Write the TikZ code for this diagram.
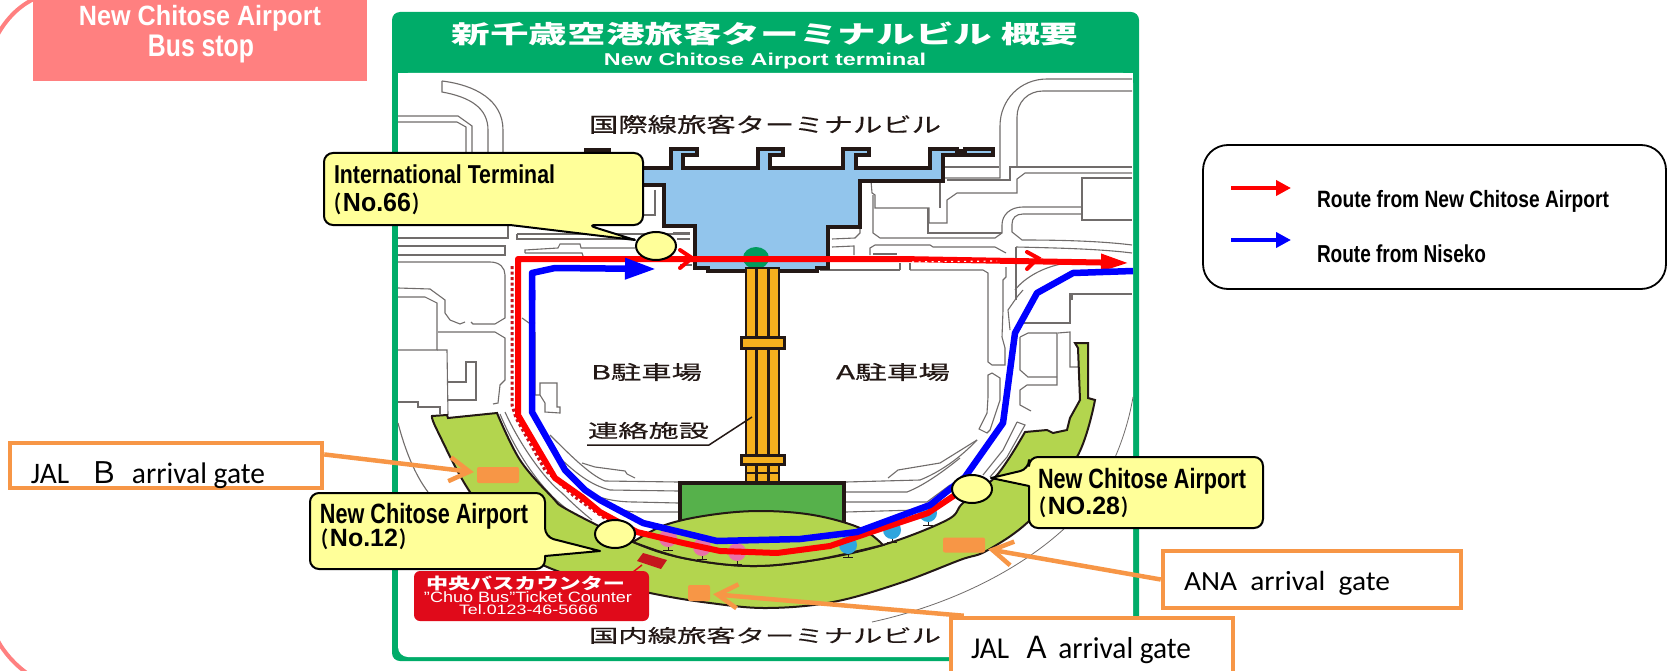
\documentclass[tikz,border=0pt]{standalone}
\usepackage{graphicx}
\usepackage{fontspec}
\usetikzlibrary{arrows.meta,shapes.geometric}
\setmainfont{Liberation Sans}
\newfontfamily\boxfont{Carlito}
\newfontfamily\cjk{Noto Sans CJK JP}
\newfontfamily\cjkm[FakeBold=0.4]{Noto Sans CJK JP}
\newfontfamily\cjkp[RawFeature=+palt]{Noto Sans CJK JP}
\newcommand\FT[3]{\resizebox*{#1pt}{#2pt}{#3}}
\newcommand\LPn{\raisebox{-.05em}{\resizebox*{.32em}{.84em}{\cjkp\bfseries （}}\hspace{.08em}}
\newcommand\RPn{\hspace{.08em}\raisebox{-.05em}{\resizebox*{.32em}{.84em}{\cjkp\bfseries ）}}}
\definecolor{pinkbox}{HTML}{FF8080}
\definecolor{framegreen}{HTML}{00AC69}
\definecolor{orangeline}{HTML}{F79646}
\definecolor{calloutfill}{HTML}{FFFF99}
\definecolor{roadgray}{HTML}{706C6B}
\definecolor{mapblack}{HTML}{231815}
\definecolor{termblue}{HTML}{92C5EC}
\definecolor{concgreen}{HTML}{B3D54E}
\definecolor{conngreen}{HTML}{56B14B}
\definecolor{bridgeorange}{HTML}{F6B01E}
\definecolor{counterred}{HTML}{E00A1A}
\definecolor{darkred}{HTML}{C5161D}
\definecolor{standpink}{HTML}{E872A8}
\definecolor{standblue}{HTML}{2FA5DE}
\tikzset{
  txt/.style={inner sep=0pt,outer sep=0pt},
  road/.style={draw=roadgray,line width=1.1pt},
  callout/.style={draw=black,fill=calloutfill,line width=2pt,line join=round},
  stopmark/.style={ellipse,draw=black,fill=calloutfill,line width=2pt,minimum width=40pt,minimum height=28pt,inner sep=0pt},
  gatebox/.style={draw=orangeline,line width=4.5pt,fill=white,inner sep=0pt},
  gatemark/.style={fill=orangeline,rounded corners=2pt,inner sep=0pt},
  gatearrow/.style={draw=orangeline,line width=4.5pt,-{Straight Barb[length=20pt,width=24pt,line width=4.5pt]}},
  redroute/.style={draw=red,line width=6pt,line join=round},
  blueroute/.style={draw=blue,line width=6.5pt,line join=round},
  mapoutline/.style={draw=mapblack,line width=2pt,line join=miter},
}
\begin{document}
\begin{tikzpicture}[x=1pt,y=-1pt]
\useasboundingbox (0,0) rectangle (1669,671);
\clip (0,0) rectangle (1669,671);
% pink outer outline
\draw[pinkbox,line width=4pt] (-2,34) .. controls (6,20) and (18,6) .. (36,-2);
\draw[pinkbox,line width=4pt] (-2,641) .. controls (4,652) and (14,664) .. (28,674);
\fill[pinkbox] (33,-2) rectangle (367,81);
\node[txt,text=white] (pa) at (200,18) {\FT{242}{26}{\bfseries New Chitose Airport}};
\node[txt,text=white] (pb) at (201,49) {\FT{106}{28}{\bfseries Bus stop}};
% frame
\fill[framegreen,rounded corners=8pt] (392,12) rectangle (1139,661);
\fill[white,rounded corners=10pt] (398,73) -- (1133,73) -- (1133,657) -- (398,657) -- cycle;
\fill[white] (398,73) rectangle (1133,100);
\fill[white] (1100,73) rectangle (1133,657);
\node[txt,text=white] (title) at (765,34) {\FT{627}{24}{\cjk\bfseries 新千歳空港旅客ターミナルビル 概要}};
\node[txt,text=white] (subtitle) at (765,61) {\FT{322}{16}{\bfseries New Chitose Airport terminal}};
% roads top left
\path[road] (442,81) .. controls (475,85) and (503,100) .. (503,130) -- (503,152);
\path[road] (442,81) -- (442,92) .. controls (470,97) and (488,108) .. (488,130) -- (488,152);
\path[road] (398,116) -- (458,116) -- (472,126) -- (472,152);
\path[road] (398,122) -- (457,122) -- (466,127) -- (466,152);
\path[road] (508,225) -- (508,238) -- (398,238);
\path[road] (398,246) -- (505,246) -- (505,255) -- (398,255);
\path[road] (398,262) -- (490,262) .. controls (500,262) and (505,268) .. (505,275) -- (505,318) -- (495,324) -- (473,324) -- (471,322);
\path[road] (465,322) -- (460,324) -- (450,320) -- (445,313) -- (445,300) -- (430,289) -- (398,288);
\path[road] (398,297) -- (425,297) -- (437,303) -- (437,350) -- (398,350);
\path[road] (438,332) -- (495,332) -- (505,338) -- (505,380) -- (500,385) -- (498,403) -- (493,404);
\path[road] (437,350) -- (447,350) -- (448,415);
\path[road] (448,382) -- (466,382) -- (466,362) -- (476,362) -- (476,400) -- (448,400);
\path[road] (398,402) -- (418,402) -- (418,407) -- (440,407) -- (440,414);
\path[road] (398,423) .. controls (405,450) and (415,475) .. (428,492);
\path[road] (517,234) -- (690,234);
\path[road] (517,234) -- (517,239) -- (635,239);
\path[road] (525,253) -- (525,250) -- (558,248) -- (560,244) -- (580,244) -- (581,248) -- (635,248);
\path[road] (525,253) -- (582,253) -- (583,256);
\path[road] (655,190) -- (655,215) -- (643,215);
\path[road] (673,233) -- (690,233);
\path[road] (677,239) -- (690,239);
\path[road] (680,265) -- (692,265);
% roads top right
\path[road] (1132,79) -- (1047,79) .. controls (1020,79) and (1000,100) .. (1000,126) -- (1000,178) -- (945,178);
\path[road] (1132,91) -- (1043,91) .. controls (1028,91) and (1017,102) .. (1017,117) -- (1017,167);
\path[road] (1132,167) -- (1010,167) -- (1010,180) -- (947,180);
\path[road] (945,167) -- (999,167);
\path[road] (1132,173) -- (1025,173) -- (1017,179) -- (1017,193) -- (957,193) -- (947,200) -- (947,223) -- (929,223) -- (929,208) -- (875,208) -- (875,195) -- (872,193) -- (871,181);
\path[road] (940,182) -- (940,208);
\path[road] (928,208) -- (928,233);
\path[road] (1132,178) -- (1082,178) -- (1082,220) -- (1132,220);
\path[road] (1082,207) -- (1023,207) .. controls (1010,207) and (1002,215) .. (1002,225) -- (1002,233) -- (995,238) -- (880,238) -- (873,233) -- (873,195);
\path[road] (1082,214) -- (1023,214) .. controls (1016,214) and (1012,218) .. (1012,224) -- (1012,232) -- (1022,240) .. controls (1060,240) and (1100,241) .. (1132,245);
\path[road] (1002,233) -- (927,233);
\path[road] (860,227) -- (860,233) -- (855,238) -- (832,239);
\path[road] (832,247) -- (854,246) -- (854,255);
\path[road] (870,255) -- (870,248) -- (875,245) -- (930,245) -- (933,247) -- (995,247) -- (1006,253);
\path[road] (873,254) -- (897,254);
\path[road] (1016,247) .. controls (1060,248) and (1100,249) .. (1132,253);
\path[road] (1016,247) -- (1016,300);
\path[road] (1006,267) -- (1006,277) -- (1003,280) -- (1003,310) -- (1002,337) -- (1005,348) -- (1005,365) -- (992,365) -- (988,362) -- (988,273) -- (983,270) -- (910,270);
\path[road] (900,270) -- (820,270);
\path[road] (900,263) -- (900,270);
\path[road] (910,263) -- (910,270);
\path[road] (1015,290) .. controls (1025,277) and (1045,266) .. (1067,263);
\path[road] (1072,300) -- (1072,294) -- (1132,294);
\path[road] (988,375) -- (992,373) -- (1000,378) -- (1000,400) -- (990,430) -- (987,433) -- (979,429) -- (987,413) -- (988,397) -- cycle;
\path[road] (1010,330) -- (1008,310) -- (1017,297) -- (1023,290);
\path[road] (1020,323) -- (1070,323) -- (1070,293);
\path[road] (1020,337) -- (1028,333) -- (1057,333) -- (1057,385) -- (1027,385) -- (1020,390) -- (1020,405) -- (1031,411);
\path[road] (1020,337) -- (1020,370) -- (1028,377) -- (1057,377);
\path[road] (1058,333) -- (1070,332) -- (1070,367) -- (1078,367);
% outer thin arc
\path[road,line width=.8pt] (1133,397) .. controls (1125,445) and (1100,500) .. (1066,527) .. controls (1020,570) and (950,605) .. (872,622);
% roads around parking areas
\path[road] (535,332) -- (535,395) -- (540,395) -- (540,383) -- (557,383) -- (557,407) -- (560,407) -- (560,413) -- (545,412) -- (545,403) -- (540,395);
\path[road] (522,318) -- (529,323) -- (535,323);
\path[road] (550,435) .. controls (570,455) and (590,475) .. (605,481) -- (678,482);
\path[road] (562,460) .. controls (575,472) and (590,485) .. (610,490) -- (678,491);
\path[road] (585,490) .. controls (600,500) and (620,502) .. (635,502) -- (678,503);
\path[road] (608,503) .. controls (615,508) and (625,512) .. (638,512) -- (678,512);
\path[road] (582,463) -- (595,467) -- (625,471) -- (627,474) -- (635,478);
\path[road] (846,482) -- (920,480) .. controls (940,472) and (960,458) .. (977,440);
\path[road] (888,478) -- (898,470) -- (940,463) -- (977,440);
\path[road] (846,492) -- (907,492) .. controls (925,485) and (945,470) .. (960,458);
\path[road] (846,502) -- (927,502) -- (950,485);
\path[road] (846,512) -- (917,510);
\path[road] (1017,422) -- (1003,450) -- (983,475);
\path[road] (1017,422) -- (1025,425) -- (1007,457) -- (990,477);
\path[road] (505,412) .. controls (520,445) and (545,480) .. (562,493) .. controls (572,503) and (582,512) .. (592,520);
\path[road] (500,414) .. controls (515,450) and (535,480) .. (556,500) -- (582,522);
% terminal
\filldraw[fill=termblue,draw=mapblack,line width=4pt,line join=miter]
  (640,168) -- (671,168) -- (671,149) -- (697,149) -- (697,155) -- (683,155) -- (683,168)
  -- (758,168) -- (758,149) -- (783,149) -- (783,155) -- (770,155) -- (770,168)
  -- (843,168) -- (843,149) -- (869,149) -- (869,155) -- (856,155) -- (856,168)
  -- (930,168) -- (930,149) -- (957,149) -- (957,155) -- (943,155) -- (943,181)
  -- (860,181) -- (860,227) -- (828,227) -- (828,268) -- (817,268) -- (817,271)
  -- (708,271) -- (708,268) -- (695,268) -- (695,226) -- (664,226) -- (664,185) -- (640,185) -- cycle;
\filldraw[fill=termblue,draw=mapblack,line width=4pt] (957,151) -- (965,151) -- (965,149) -- (993,149) -- (993,155) -- (965,155) -- (957,155);
\fill[mapblack] (584,148) rectangle (611,156);
% small green circle
\filldraw[fill=framegreen!90!black,draw=none] (756,258) ellipse (13pt and 11pt);
% bridge
\filldraw[fill=bridgeorange,draw=mapblack,line width=2.5pt] (746,268) rectangle (779,483);
\draw[mapblack,line width=3pt] (756,268) -- (756,483);
\draw[mapblack,line width=3pt] (768,268) -- (768,483);
\filldraw[fill=bridgeorange,draw=mapblack,line width=3pt] (741,337) rectangle (784,348);
\filldraw[fill=bridgeorange,draw=mapblack,line width=3pt] (741,455) rectangle (784,464);
\draw[mapblack,line width=2.5pt] (746,473) -- (779,473);
% connector building
\filldraw[fill=conngreen,draw=mapblack,line width=3.5pt] (680,483) rectangle (844,540);
% concourse
\filldraw[fill=concgreen,mapoutline] plot[smooth,tension=.6] coordinates {(432,416)(437,430)(470,492)(515,545)(560,572)(650,593)(710,603)(767,608)(833,602)(900,583)(960,560)(988,550)(1033,517)(1078,455)(1095,400)}
  -- (1088,398) -- (1088,343) -- (1075,343) -- (1078,348) -- (1080,400) -- (1070,418) -- (1067,430) -- (1053,433) -- (1047,430) -- (1025,432)
  -- plot[smooth,tension=.6] coordinates {(1025,432)(997,475)(963,503)(947,520)(883,545)(815,560)(750,566)(683,558)(633,542)(568,510)(552,497)(520,460)(497,413)}
  -- (448,418) -- (447,415) -- cycle;
\filldraw[fill=concgreen,mapoutline] plot[smooth,tension=.6] coordinates {(633,542)(665,525)(710,515)(760,511)(813,515)(860,528)(883,545)}
  -- plot[smooth,tension=.6] coordinates {(883,545)(815,560)(750,566)(683,558)(633,542)} -- cycle;
% stands
\foreach \sx/\sy/\sc in {668/538/standpink,702/547/standpink,737/552/standpink,848/545/standblue,892/530/standblue,928/513/standblue}{
  \fill[\sc] (\sx,\sy) circle (9pt);
  \draw[mapblack,line width=.9pt] (\sx,\sy+9) -- (\sx,\sy+12) (\sx-5,\sy+12) -- (\sx+5,\sy+12);
}
% routes
\draw[darkred,line width=3pt,dash pattern=on 3pt off 2.5pt] (512,266) -- (512,405) -- (516,418) -- (545,470) -- (575,497) -- (610,522) -- (645,535);
\path[redroute] (692,259) -- (518,259) -- (518,415) -- (555,478) -- (582,497) -- (600,512) -- (637,532) -- (683,543) -- (720,551) -- (777,553) -- (830,546) -- (877,530) -- (928,513) -- (955,495);
\path[draw=red,line width=6pt,-{Triangle[length=28pt,width=16pt]}] (692,259) -- (900,259) -- (1129,263);
\draw[red,line width=4pt,line cap=round,line join=miter] (680,250) -- (692,258) -- (680,268);
\draw[red,line width=4pt,line cap=round,line join=miter] (1027,252) -- (1038,258) -- (1027,269);
\draw[white,line width=1.2pt,dash pattern=on 2pt off 4.5pt] (912,262) -- (997,261);
\path[blueroute,-{Triangle[length=31pt,width=20pt]}] (532,300) -- (532,273) -- (555,268) -- (656,269);
\path[blueroute] (532,290) -- (532,412) -- (565,470) -- (585,490) -- (600,500) -- (643,523) -- (717,541) -- (800,539) -- (857,532) -- (930,505) -- (965,477) -- (1003,423) -- (1015,333) -- (1037,293) -- (1073,273) -- (1133,271);
% map labels
\node[txt,text=mapblack] (intl) at (765,124.5) {\FT{352}{19}{\cjkm 国際線旅客ターミナルビル}};
\node[txt,text=mapblack] (dom) at (765,635.5) {\FT{352}{17}{\cjkm 国内線旅客ターミナルビル}};
\node[txt,text=mapblack] (bpark) at (646.5,372) {\FT{111}{18}{\cjkm B駐車場}};
\node[txt,text=mapblack] (apark) at (893,372) {\FT{114}{18}{\cjkm A駐車場}};
\node[txt,text=mapblack] (link) at (648.5,430.5) {\FT{121}{17}{\cjkm 連絡施設}};
\coordinate (linkbar) at (587,445);
\coordinate (linkknee) at (709,445);
\coordinate (linktip) at (752,417);
\draw[mapblack,line width=1.5pt] (linkbar) -- (linkknee) -- (linktip);
% counter
\fill[darkred] (643,553) -- (667,560) -- (661,569) -- (637,561) -- cycle;
\draw[counterred,line width=1.5pt] (642,565) -- (633,572);
\fill[counterred,rounded corners=6pt] (414,571) rectangle (649,621);
\node[txt,text=white] (ca) at (525.5,583.5) {\FT{199}{15}{\cjk\bfseries 中央バスカウンター}};
\node[txt,text=white] (cb) at (528,597) {\FT{208}{11}{"Chuo Bus"Ticket Counter}};
\node[txt,text=white] (cc) at (528.5,610) {\FT{139}{10}{Tel.0123-46-5666}};
% callouts
\draw[callout,rounded corners=9pt] (324,153) -- (643,153) -- (643,225) -- (587,225) [sharp corners] -- (635,240) -- (510,225) [rounded corners=9pt] -- (324,225) -- cycle;
\node[stopmark] (stopintl) at (656,246) {};
\node[txt] (ia) at (444.5,174.5) {\FT{221}{19}{\bfseries International Terminal}};
\node[txt] (ib) at (377,204) {\FT{88}{22}{\bfseries \LPn No.66\RPn}};
\draw[callout,rounded corners=9pt] (310,493) -- (545,493) -- (545,537) [sharp corners] -- (600,551) -- (545,556) [rounded corners=9pt] -- (545,569) -- (310,569) -- cycle;
\node[stopmark] (stoptw) at (615,534) {};
\node[txt] (ta) at (424,516) {\FT{208}{26}{\bfseries New Chitose Airport}};
\node[txt] (tb) at (364,539.5) {\FT{88}{21}{\bfseries \LPn No.12\RPn}};
\draw[callout,rounded corners=9pt] (1029,469) [sharp corners] -- (991,478) -- (1029,486) [rounded corners=9pt] -- (1029,528) -- (1263,528) -- (1263,457) -- (1029,457) -- cycle;
\node[stopmark] (stoptwe) at (972,489) {};
\node[txt] (wa) at (1142,481) {\FT{208}{26}{\bfseries New Chitose Airport}};
\node[txt] (wb) at (1084,507.5) {\FT{92}{21}{\bfseries \LPn NO.28\RPn}};
% gate marks
\node[gatemark,minimum width=42pt,minimum height=16pt] (gb) at (498,475) {};
\node[gatemark,minimum width=42pt,minimum height=15pt] (gn) at (964,545) {};
\node[gatemark,minimum width=22pt,minimum height=16pt] (ga) at (699,593) {};
% gate boxes
\node[gatebox,minimum width=312pt,minimum height=45pt] (jalb) at (166,465.5) {};
\node[gatebox,minimum width=298pt,minimum height=57pt] (ana) at (1312,579.5) {};
\node[gatebox,minimum width=282pt,minimum height=80pt] (jala) at (1092,658) {};
\draw[gatearrow,shorten >=3pt] (jalb.4.4) -- (gb);
\draw[gatearrow,shorten >=3pt] (ana.west) -- (gn);
\draw[gatearrow,shorten >=3pt] (jala.north west) ++(15,0) coordinate (jalastart) -- (ga);
\node[txt] (tjb) at (148,475) {\FT{234}{27}{\boxfont JAL~~~{\cjk Ｂ}~~arrival gate}};
\node[txt] (tan) at (1287,583.7) {\FT{206}{24}{\boxfont ANA~~arrival~~gate}};
\node[txt] (tja) at (1081,650) {\FT{220}{27.5}{\boxfont JAL~~{\cjk Ａ}~arrival gate}};
% legend
\draw[black,line width=1.8pt,rounded corners=25pt] (1203,145) rectangle (1666,289);
\coordinate (lra) at (1231,188);
\coordinate (lrb) at (1291,188);
\coordinate (lba) at (1231,240);
\coordinate (lbb) at (1291,240);
\draw[red,line width=4.5pt,-{Triangle[length=15pt,width=15pt]}] (lra) -- (lrb);
\draw[blue,line width=4.5pt,-{Triangle[length=15pt,width=15pt]}] (lba) -- (lbb);
\node[txt] (lr) at (1463,201) {\FT{292}{22}{\bfseries Route from New Chitose Airport}};
\node[txt] (lb) at (1401.5,254) {\FT{169}{18}{\bfseries Route from Niseko}};
\end{tikzpicture}
\end{document}
